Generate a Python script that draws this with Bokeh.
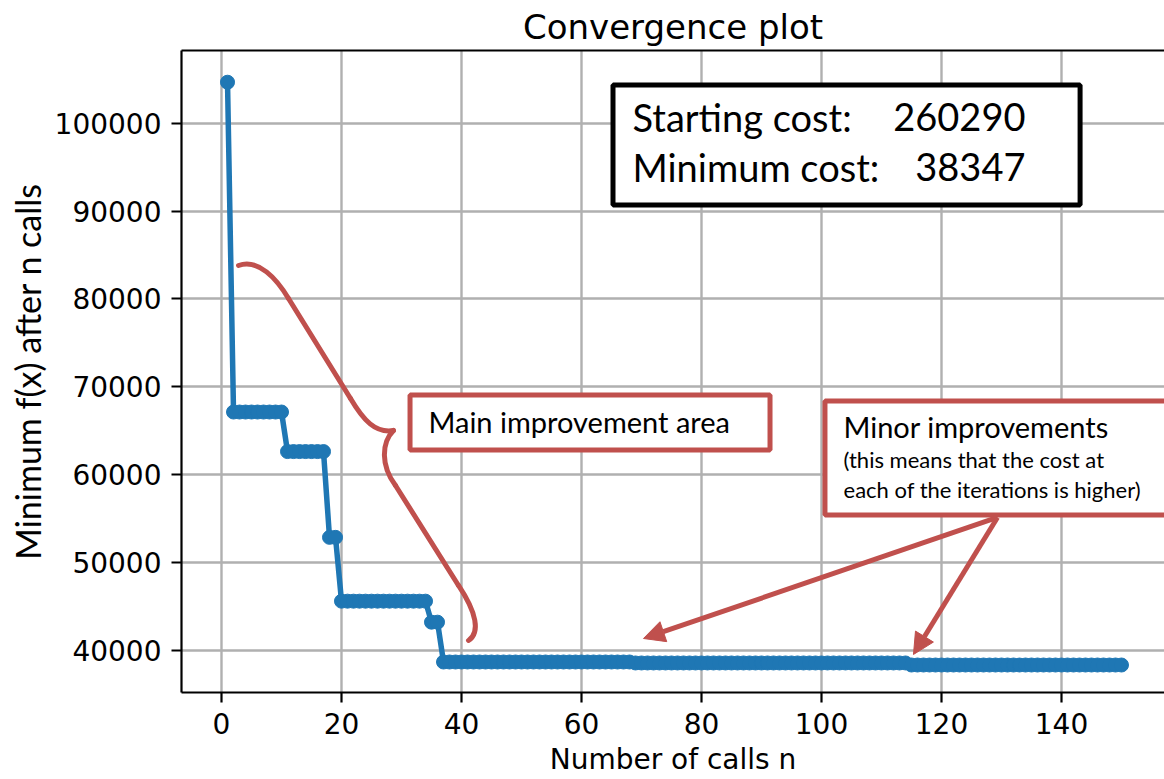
import numpy as np
from bokeh.plotting import figure
from bokeh.models import (LinearAxis, FixedTicker, BasicTickFormatter, Label,
                          Arrow, NormalHead, Range1d)
from bokeh.embed import file_html
from bokeh.resources import INLINE

# ---------------- data ----------------
# minimum f(x) after n calls, stored as runs: first call of each new minimum
step_first_call = [1, 2, 11, 18, 20, 35, 37, 69, 115]
step_min_value = [104650, 67130, 62630, 52870, 45610, 43220, 38690, 38580, 38347]
n_calls_total = 150

x_ticks = [0, 20, 40, 60, 80, 100, 120, 140]
y_ticks = [40000, 50000, 60000, 70000, 80000, 90000, 100000]

starting_cost = 260290
minimum_cost = 38347

title_text = "Convergence plot"
x_label = "Number of calls n"
y_label = "Minimum f(x) after n calls"

run_lengths = np.diff(step_first_call + [n_calls_total + 1])
calls = np.arange(1, n_calls_total + 1)
min_values = np.repeat(step_min_value, run_lengths)

BLUE = "#1f77b4"
RED = "#c0504d"

# ---------------- figure ----------------
p = figure(width=1164, height=779,
           x_range=Range1d(-6.67, 157.17), y_range=Range1d(35220, 108260),
           output_backend="svg", toolbar_location=None,
           min_border_left=181, min_border_right=0,
           min_border_top=50, min_border_bottom=87)
p.outline_line_color = None
p.background_fill_color = "white"
p.border_fill_color = "white"

p.title.text = title_text
p.title.align = "center"
p.title.text_font = "DejaVu Sans"
p.title.text_font_size = "34px"
p.title.text_font_style = "normal"
p.title.text_color = "black"
p.title.standoff = 8

for ax in (p.xaxis[0], p.yaxis[0]):
    ax.axis_line_width = 2.2
    ax.axis_line_color = "black"
    ax.major_tick_line_width = 2.2
    ax.major_tick_line_color = "black"
    ax.major_tick_out = 10
    ax.major_tick_in = 0
    ax.minor_tick_line_color = None
    ax.major_label_text_font = "DejaVu Sans"
    ax.major_label_text_font_size = "28px"
    ax.major_label_text_color = "black"
    ax.major_label_standoff = 10
    ax.axis_label_text_color = "black"
    ax.axis_label_text_font_style = "normal"

p.xaxis.axis_label = x_label
p.xaxis.axis_label_text_font = "DejaVu Sans"
p.xaxis.axis_label_text_font_size = "28px"
p.xaxis.axis_label_text_line_height = 0.8
p.xaxis.axis_label_standoff = 6

p.yaxis.axis_label = y_label
p.yaxis.axis_label_text_font = "Lato"
p.yaxis.axis_label_text_font_size = "34px"
p.yaxis.axis_label_text_line_height = 0.9
p.yaxis.axis_label_standoff = 4

p.xaxis.ticker = FixedTicker(ticks=x_ticks)
p.yaxis.ticker = FixedTicker(ticks=y_ticks)
p.yaxis.formatter = BasicTickFormatter(use_scientific=False)
p.xgrid.ticker = FixedTicker(ticks=x_ticks)
p.ygrid.ticker = FixedTicker(ticks=y_ticks)
for g in (p.xgrid[0], p.ygrid[0]):
    g.grid_line_color = "#b0b0b0"
    g.grid_line_width = 2.4

top_axis = LinearAxis(ticker=FixedTicker(ticks=[]), axis_line_width=2.2,
                      axis_line_color="black", major_tick_line_color=None,
                      minor_tick_line_color=None, major_label_text_color=None)
p.add_layout(top_axis, "above")

# ---------------- data marks ----------------
p.line(calls, min_values, line_width=5.5, color=BLUE)
p.scatter(calls, min_values, size=14, color=BLUE)

# ---------------- annotation boxes ----------------
p.quad(left=[65.25], right=[143.1], top=[104337], bottom=[90684],
       fill_color="white", line_color="black", line_width=5)
p.quad(left=[31.42], right=[91.42], top=[69068], bottom=[62811],
       fill_color="white", line_color=RED, line_width=5)
p.quad(left=[100.58], right=[170], top=[68386], bottom=[55416],
       fill_color="white", line_color=RED, line_width=5)

# ---------------- curly brace ----------------
bx0 = [2.833, 11.167, 21.5, 28.667, 29.0, 39.5]
by0 = [83801, 80047, 68670, 65029, 58772, 47395]
bx1 = [11.167, 21.5, 28.667, 29.0, 39.5, 41.167]
by1 = [80047, 68670, 65029, 58772, 47395, 41138]
bcx0 = [6.167, 11.167, 23.667, 26.667, 29.0, 42.5]
bcy0 = [84598, 80047, 66167, 63664, 58772, 44323]
bcx1 = [9.167, 21.5, 25.667, 26.5, 39.5, 43.167]
bcy1 = [82322, 68670, 64688, 61047, 47395, 42048]
p.bezier(x0=bx0, y0=by0, x1=bx1, y1=by1, cx0=bcx0, cy0=bcy0, cx1=bcx1, cy1=bcy1,
         line_color=RED, line_width=5, line_cap="round")

# ---------------- arrows ----------------
for xe, ye in [(70.33, 41365), (115.33, 39545)]:
    p.add_layout(Arrow(end=NormalHead(size=21, fill_color=RED, line_color=RED, line_width=1),
                       x_start=129.33, y_start=55131, x_end=xe, y_end=ye,
                       line_color=RED, line_width=5))

# ---------------- texts ----------------
def lab(x, y, text, size, align="left"):
    p.add_layout(Label(x=x, y=y, text=text, text_font="Lato", text_font_size=size,
                       text_align=align, text_baseline="alphabetic",
                       text_color="black"))

lab(68.5, 100640, "Starting cost:", "38px")
lab(134.0, 100640, str(starting_cost), "38px", align="right")
lab(68.5, 94950, "Minimum cost:", "38px")
lab(134.0, 94950, str(minimum_cost), "38px", align="right")

lab(34.5, 66070, "Main improvement area", "29px")
lab(103.67, 65500, "Minor improvements", "29px")
lab(103.67, 61750, "(this means that the cost at", "22px")
lab(103.67, 58340, "each of the iterations is higher)", "22px")

open("out.html", "w").write(file_html(p, INLINE))
